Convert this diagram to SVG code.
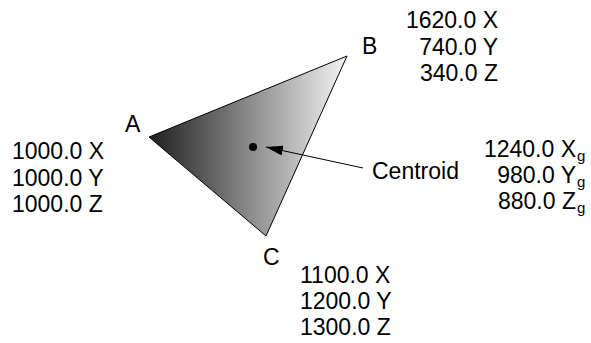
<svg xmlns="http://www.w3.org/2000/svg" width="591" height="343" viewBox="0 0 591 343">
<style>
text{font-family:"Liberation Sans",Arial,sans-serif;font-size:23px;fill:#000}
.e{text-anchor:end}
.sub{font-size:15px}
</style>
<defs>
<linearGradient id="g" gradientUnits="userSpaceOnUse" x1="149" y1="0" x2="347" y2="0">
<stop offset="0" stop-color="#1e1e1e"/>
<stop offset="1" stop-color="#f4f4f4"/>
</linearGradient>
<marker id="ah" markerWidth="18" markerHeight="10" refX="17" refY="5" orient="auto" markerUnits="userSpaceOnUse">
<path d="M0,0 L17,5 L0,10 Z" fill="#000"/>
</marker>
</defs>
<g id="triangle">
<polygon points="149,137 347,56 266,236" fill="url(#g)" stroke="#000" stroke-width="1"/>
<circle cx="253" cy="147" r="4" fill="#000"/>
</g>
<g id="connectors">
<line x1="363" y1="168" x2="266" y2="147" stroke="#000" stroke-width="1" marker-end="url(#ah)"/>
</g>
<g id="A"><text x="125" y="132">A</text>
<text x="12" y="159">1000.0 X</text><text x="12" y="186">1000.0 Y</text><text x="12" y="212">1000.0 Z</text></g>
<g id="B"><text x="362" y="54">B</text>
<text class="e" x="498" y="28">1620.0 X</text><text class="e" x="498" y="54.5">740.0 Y</text><text class="e" x="498" y="81">340.0 Z</text></g>
<g id="C"><text x="263" y="265">C</text>
<text x="300" y="283">1100.0 X</text><text x="300" y="309">1200.0 Y</text><text x="300" y="335">1300.0 Z</text></g>
<g id="centroid"><text x="372" y="179">Centroid</text>
<text class="e" x="576" y="157">1240.0 X</text><text class="sub" x="577" y="161">g</text>
<text class="e" x="576" y="183">980.0 Y</text><text class="sub" x="577" y="187">g</text>
<text class="e" x="576" y="209">880.0 Z</text><text class="sub" x="577" y="213">g</text></g>
</svg>
